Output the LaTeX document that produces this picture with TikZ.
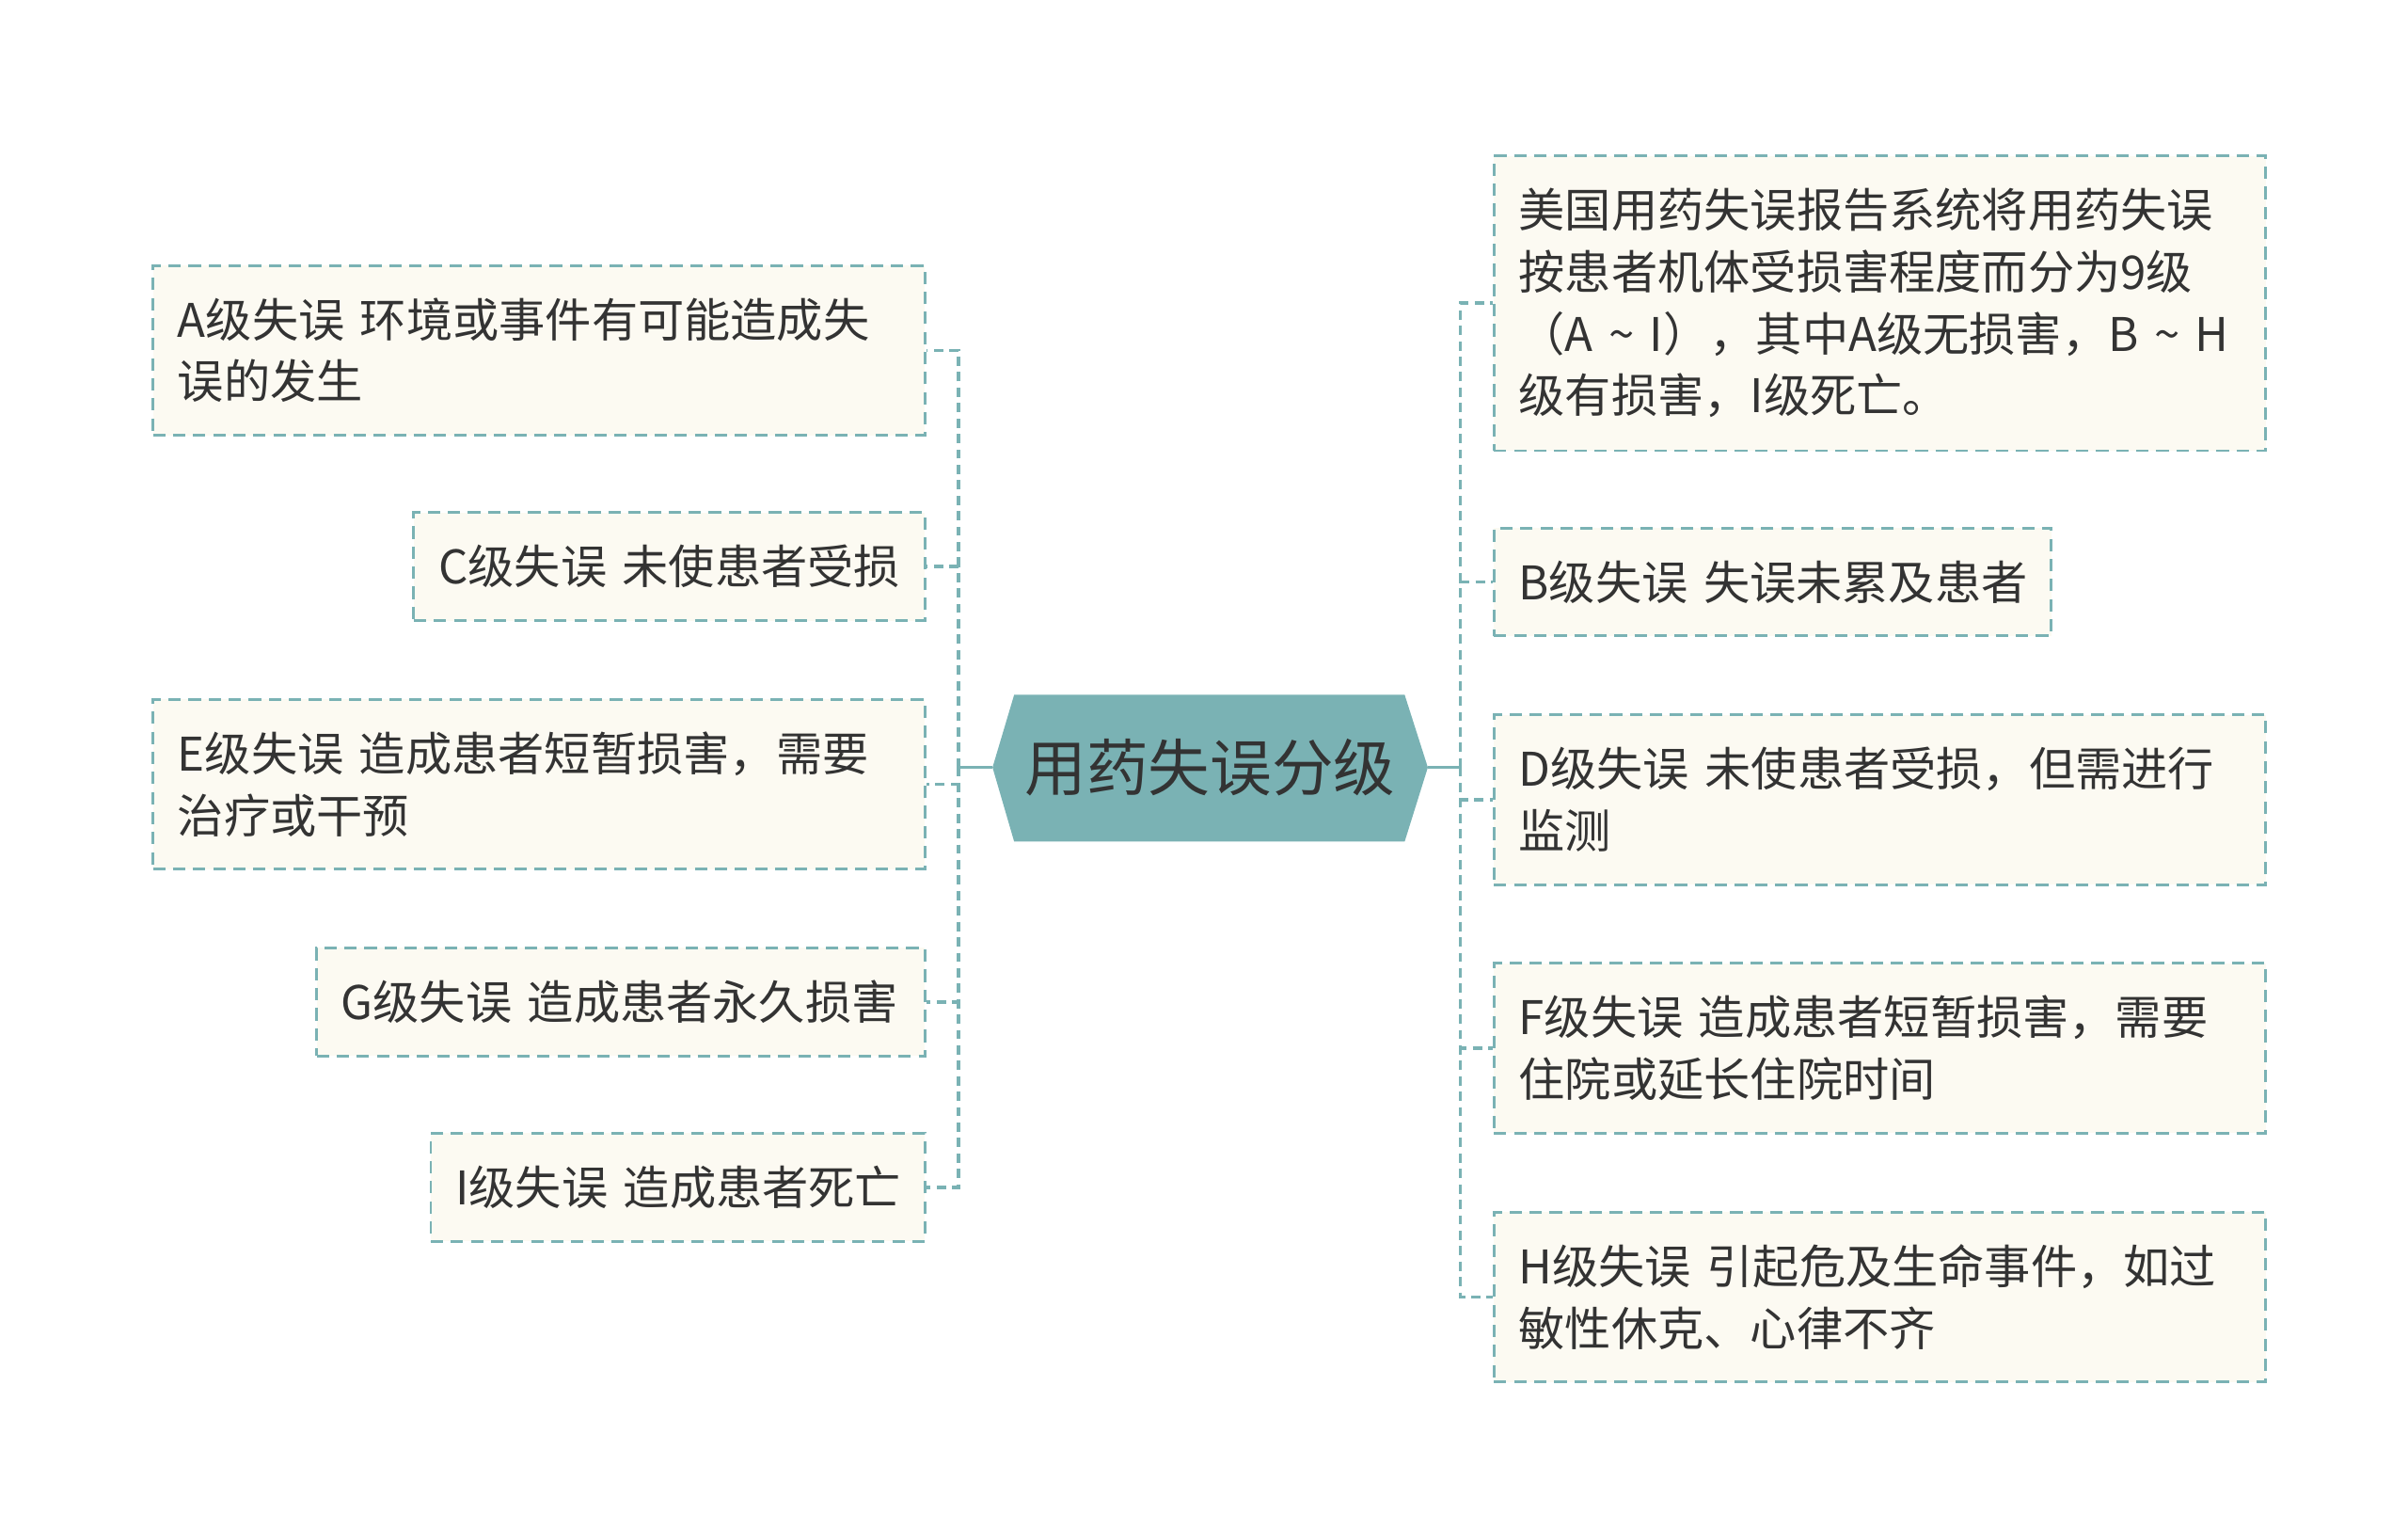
\documentclass[tikz,border=0pt]{standalone}
\usepackage{fontspec}
\setmainfont{Noto Sans CJK SC}
\definecolor{teal1}{HTML}{7AB2B4}
\definecolor{boxfill}{HTML}{FCFAF2}
\definecolor{txt}{HTML}{333333}
\begin{document}
\begin{tikzpicture}[x=1pt,y=-1pt,
 box/.style={draw=teal1, line width=1.8pt, dash pattern=on 8pt off 5pt, fill=boxfill,
   inner xsep=16pt, inner ysep=0pt, align=left, text=txt,
   font=\fontsize{30pt}{40pt}\selectfont},
 link/.style={draw=teal1, line width=2.2pt},
 dlink/.style={draw=teal1, line width=2.2pt, dash pattern=on 6pt off 4pt}]
\useasboundingbox (0,0) rectangle (1560,990.2);

% central topic
\fill[teal1] (643,497) -- (657,450) -- (910,450) -- (925,497) -- (910,545) -- (657,545) -- cycle;
\node[font=\fontsize{40pt}{48pt}\selectfont, text=txt, inner sep=0pt] (root) at (784,497) {用药失误分级};
\coordinate (hl) at (643,497);
\coordinate (hr) at (925,497);
\coordinate (ls) at (621,497);
\coordinate (rs) at (946,497);

% left boxes
\node[box, text width=468pt, minimum height=110pt, anchor=north east] (A) at (600,171) {A级失误~环境或事件有可能造成失\\误的发生};
\node[box, text width=299pt, minimum height=70pt, anchor=north east] (C) at (600,331) {\mbox{C级失误~未使患者受损}};
\node[box, text width=468pt, minimum height=110pt, anchor=north east] (E) at (600,452) {E级失误~造成患者短暂损害，需要\\治疗或干预};
\node[box, text width=362pt, minimum height=70pt, anchor=north east] (G) at (600,613) {\mbox{G级失误~造成患者永久损害}};
\node[box, text width=288pt, minimum height=70pt, anchor=north east] (I) at (600,733) {\mbox{I级失误~造成患者死亡}};

% right boxes
\node[box, text width=468pt, minimum height=191pt, anchor=north west] (T) at (967,100) {美国用药失误报告系统将用药失误\\按患者机体受损害程度而分为9级\\\mbox{（A~\textasciitilde~I），其中A级无损害，B~\textasciitilde~H}\\级有损害，I级死亡。};
\node[box, text width=329pt, minimum height=70pt, anchor=north west] (B) at (967,341) {\mbox{B级失误~失误未累及患者}};
\node[box, text width=468pt, minimum height=110pt, anchor=north west] (D) at (967,462) {D级失误~未使患者受损，但需进行\\监测};
\node[box, text width=468pt, minimum height=110pt, anchor=north west] (F) at (967,623) {F级失误~造成患者短暂损害，需要\\住院或延长住院时间};
\node[box, text width=468pt, minimum height=110pt, anchor=north west] (H) at (967,784) {H级失误~引起危及生命事件，如过\\敏性休克、心律不齐};

% connectors
\draw[link] (hl) -- (ls);
\draw[link] (hr) -- (rs);
\foreach \n in {A,C,E,G,I} \draw[dlink] (ls) |- (\n.east);
\foreach \n in {T,B,D,F,H} \draw[dlink] (rs) |- (\n.west);
\end{tikzpicture}
\end{document}
